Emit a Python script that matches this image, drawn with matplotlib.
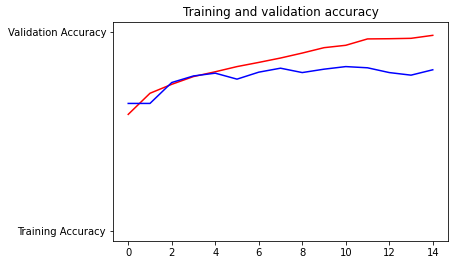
import matplotlib
matplotlib.use("Agg")
import matplotlib.pyplot as plt

epochs = list(range(15))
train_acc = [0.586, 0.692, 0.737, 0.776, 0.800, 0.826, 0.847, 0.869, 0.894, 0.921,
             0.933, 0.965, 0.966, 0.968, 0.983]
val_acc = [0.641, 0.641, 0.746, 0.779, 0.793, 0.763, 0.798, 0.818, 0.796, 0.813,
           0.826, 0.820, 0.796, 0.783, 0.810]
ytick_labels = ["Training Accuracy", "Validation Accuracy"]

fig = plt.figure(figsize=(454 / 72, 264 / 72), dpi=72)
ax = fig.add_axes([113 / 454, 23 / 264, (448 - 113) / 454, (241 - 22) / 264])
ax.plot(epochs, train_acc, color="red", lw=1.5)
ax.plot(epochs, val_acc, color="blue", lw=1.5)
ax.set_yticks([0, 1])
ax.set_yticklabels(ytick_labels)
ax.set_ylim(-0.05, 1.05)
ax.set_xlim(-0.7, 14.7)
ax.set_xticks([0, 2, 4, 6, 8, 10, 12, 14])
ax.set_title("Training and validation accuracy")
fig.savefig("out.png", dpi=72)
